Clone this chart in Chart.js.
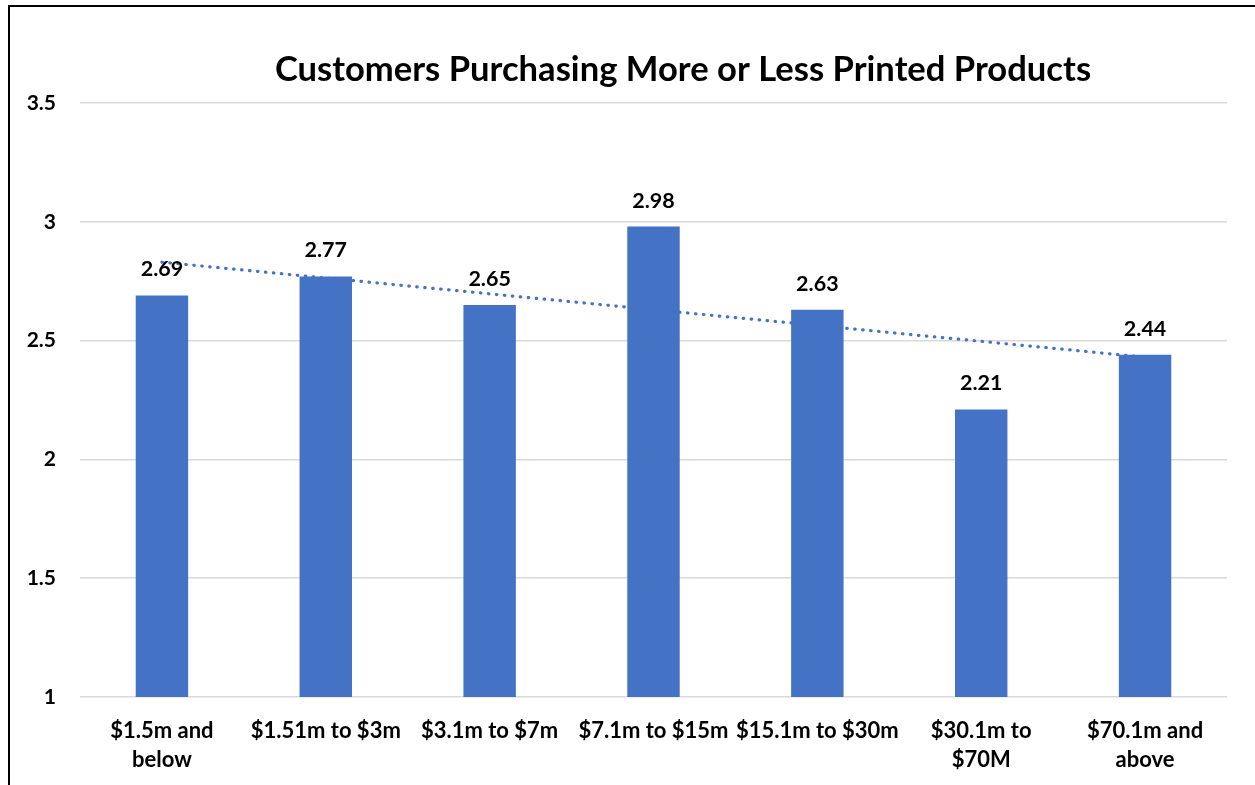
<!DOCTYPE html>
<html>
<head>
<meta charset="utf-8">
<script src="https://cdn.jsdelivr.net/npm/chart.js@4.4.1/dist/chart.umd.min.js"></script>
<style>
  html, body { margin: 0; padding: 0; background: #fff; overflow: hidden; width: 1255px; height: 785px; }
  #box { position: absolute; left: 8px; top: 5px; width: 1346px; height: 820px;
         border-left: 2px solid #000; border-top: 2px solid #000; background: #fff; }
  #wrap { position: absolute; left: 0; top: 0; width: 1346px; height: 799px; }
</style>
</head>
<body>
<div id="box"><div id="wrap"><canvas id="c"></canvas></div></div>
<script>
const chartTitle = "Customers Purchasing More or Less Printed Products";
const categories = [
  ["$1.5m and", "below"],
  "$1.51m to $3m",
  "$3.1m to $7m",
  "$7.1m to $15m",
  "$15.1m to $30m",
  ["$30.1m to", "$70M"],
  ["$70.1m and", "above"]
];
const values = [2.69, 2.77, 2.65, 2.98, 2.63, 2.21, 2.44];
// dotted trendline, endpoints
const trendValues = [2.83, null, null, null, null, null, 2.43];
const yTicks = { min: 1, max: 3.5, step: 0.5 };

const FONT = "Lato, 'Open Sans', 'DejaVu Sans', sans-serif";
const BLUE = "#4472C4";

const valueLabels = {
  id: "valueLabels",
  afterDatasetsDraw(chart) {
    const ctx = chart.ctx;
    const meta = chart.getDatasetMeta(1);
    ctx.save();
    ctx.font = "bold 21.5px " + FONT;
    ctx.fillStyle = "#000";
    ctx.textAlign = "center";
    ctx.textBaseline = "alphabetic";
    meta.data.forEach((bar, i) => {
      ctx.fillText(values[i].toFixed(2), bar.x, bar.y - 19);
    });
    ctx.restore();
  }
};

const titleDraw = {
  id: "titleDraw",
  afterDraw(chart) {
    const ctx = chart.ctx;
    ctx.save();
    ctx.font = "bold 34.6px " + FONT;
    ctx.fillStyle = "#000";
    ctx.textAlign = "center";
    ctx.textBaseline = "middle";
    ctx.fillText(chartTitle, chart.width / 2, 63);
    ctx.restore();
  }
};

new Chart(document.getElementById("c"), {
  type: "bar",
  data: {
    labels: categories,
    datasets: [
      {
        type: "line",
        label: "Trend",
        data: trendValues,
        spanGaps: true,
        borderColor: BLUE,
        borderWidth: 3.2,
        borderDash: [0.5, 7.5],
        borderCapStyle: "round",
        pointRadius: 0,
        fill: false,
        order: 0
      },
      {
        type: "bar",
        label: "Average",
        data: values,
        backgroundColor: BLUE,
        borderWidth: 0,
        barPercentage: 0.32,
        categoryPercentage: 1,
        order: 1
      }
    ]
  },
  plugins: [valueLabels, titleDraw],
  options: {
    responsive: true,
    maintainAspectRatio: false,
    animation: false,
    layout: { padding: { left: 0, right: 129, top: 96, bottom: 13 } },
    plugins: {
      legend: { display: false },
      tooltip: { enabled: false },
      title: { display: false }
    },
    scales: {
      x: {
        grid: { display: false, drawTicks: false },
        border: { display: false },
        ticks: {
          color: "#000",
          padding: 19,
          maxRotation: 0,
          autoSkip: false,
          font: { family: FONT, size: 22, weight: "bold", lineHeight: 1.32 }
        }
      },
      y: {
        min: yTicks.min,
        max: yTicks.max,
        afterFit(scale) { scale.width = 70; },
        grid: { color: "#D9D9D9", lineWidth: 1.5, drawTicks: false },
        border: { display: false },
        ticks: {
          stepSize: yTicks.step,
          color: "#000",
          padding: 24,
          callback: (v) => String(Number(v)),
          font: { family: FONT, size: 21, weight: "bold" }
        }
      }
    }
  }
});
</script>
</body>
</html>
